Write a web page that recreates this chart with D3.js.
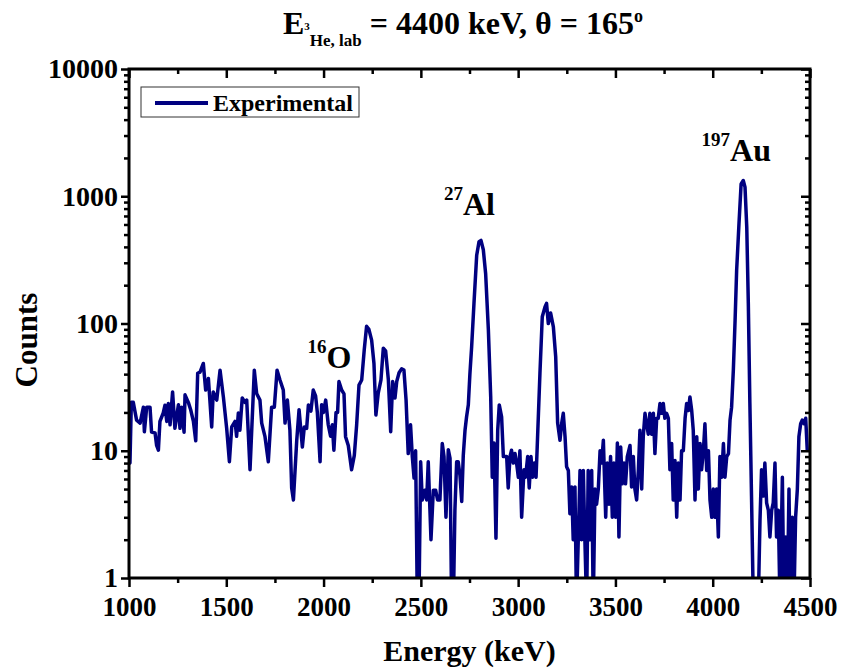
<!DOCTYPE html>
<html>
<head>
<meta charset="utf-8">
<script src="https://cdn.jsdelivr.net/npm/d3@7"></script>
<style>
  body { margin: 0; background: #fff; }
  text { font-family: "Liberation Serif", "Times New Roman", serif; font-weight: bold; }
</style>
</head>
<body>
<svg id="chart" width="841" height="668"></svg>
<script>
// spectrum (energy in keV, counts; 0 = empty channel)
const energy = [1000, 1005, 1012, 1022, 1039, 1057, 1074, 1079, 1091, 1108, 1116, 1134, 1142, 1151, 1159, 1176, 1185, 1194, 1202, 1211,
  1224, 1236, 1254, 1262, 1271, 1283, 1288, 1305, 1317, 1331, 1343, 1353, 1365, 1382, 1394, 1408, 1425, 1433, 1451, 1468,
  1485, 1502, 1516, 1528, 1545, 1553, 1562, 1570, 1582, 1596, 1605, 1622, 1644, 1656, 1673, 1682, 1699, 1716, 1733, 1747,
  1761, 1776, 1793, 1802, 1814, 1827, 1836, 1845, 1862, 1874, 1891, 1901, 1913, 1922, 1935, 1947, 1959, 1968, 1982, 1990,
  1999, 2011, 2024, 2036, 2045, 2053, 2064, 2072, 2079, 2093, 2105, 2113, 2127, 2144, 2158, 2170, 2182, 2196, 2209, 2221,
  2233, 2247, 2259, 2269, 2281, 2295, 2307, 2319, 2333, 2345, 2355, 2367, 2376, 2388, 2401, 2413, 2424, 2435, 2447, 2456,
  2465, 2473, 2482, 2490, 2499, 2507, 2521, 2530, 2538, 2552, 2564, 2576, 2586, 2598, 2610, 2619, 2629, 2641, 2650, 2658,
  2667, 2675, 2684, 2692, 2701, 2710, 2718, 2727, 2735, 2744, 2752, 2761, 2773, 2787, 2799, 2809, 2821, 2833, 2847, 2859,
  2867, 2876, 2886, 2895, 2903, 2915, 2924, 2932, 2941, 2949, 2958, 2966, 2975, 2984, 2992, 3001, 3009, 3018, 3030, 3038,
  3049, 3057, 3066, 3074, 3083, 3092, 3098, 3112, 3124, 3138, 3146, 3155, 3167, 3181, 3193, 3203, 3215, 3224, 3232, 3241,
  3249, 3258, 3266, 3275, 3283, 3292, 3300, 3309, 3318, 3326, 3335, 3343, 3352, 3360, 3369, 3378, 3386, 3395, 3403, 3412,
  3421, 3429, 3438, 3450, 3458, 3467, 3475, 3484, 3492, 3501, 3510, 3518, 3527, 3535, 3544, 3552, 3561, 3575, 3583, 3592,
  3600, 3609, 3618, 3626, 3635, 3643, 3652, 3660, 3669, 3677, 3686, 3695, 3703, 3712, 3720, 3729, 3737, 3746, 3754, 3763,
  3772, 3780, 3789, 3797, 3806, 3815, 3823, 3832, 3840, 3849, 3858, 3866, 3875, 3883, 3892, 3900, 3909, 3918, 3926, 3935,
  3943, 3952, 3960, 3969, 3978, 3986, 3995, 4003, 4012, 4020, 4029, 4037, 4046, 4055, 4063, 4072, 4081, 4089, 4097, 4106,
  4115, 4123, 4135, 4146, 4157, 4166, 4175, 4183, 4191, 4200, 4209, 4234, 4243, 4251, 4260, 4268, 4277, 4286, 4294, 4303,
  4311, 4320, 4328, 4337, 4346, 4358, 4366, 4375, 4383, 4392, 4400, 4409, 4417, 4426, 4435, 4443, 4452, 4460, 4469, 4478,
  4486];
const counts = [8.5, 8, 24, 24, 17.4, 16.5, 22, 14.1, 22, 22, 14, 13.8, 11, 10.1, 17, 19.8, 22.8, 17, 23.5, 16,
  29, 15, 23, 15, 22, 14, 27.5, 24, 21, 17, 12, 40.6, 41.5, 48.5, 30, 37, 15.4, 29, 25, 43,
  26.5, 15, 8.2, 15.4, 17, 13, 19.8, 14.5, 26, 24, 25, 7.1, 43, 28.2, 25, 16.5, 12.9, 8.2, 22, 22,
  43, 36, 30, 16.5, 25, 14.5, 5.1, 4.1, 12, 21, 10.7, 15.4, 15, 22.9, 20.5, 30, 27, 20, 8.2, 23,
  20, 25, 16, 13, 16, 10.1, 20, 20, 35, 30, 28, 12.9, 11, 7.1, 9.2, 16, 32.8, 36, 62, 95,
  90, 74, 48.5, 19.1, 28.4, 36, 64, 61, 36, 14.1, 35, 26, 35, 41, 44, 43, 25, 9.5, 16, 9,
  6.1, 10, 0, 0, 8.2, 4.1, 4.9, 4.1, 8.2, 2, 4.9, 4.9, 4.1, 4.1, 11.4, 9, 3, 10.2, 8.7, 0,
  0, 3.4, 8.2, 8.2, 6.4, 4, 9.2, 14.5, 18.5, 23, 40, 65.5, 144, 344, 440, 450, 380, 246, 89, 26.5,
  6.2, 11.5, 2.05, 14.5, 22.9, 18.5, 9, 9, 9, 5.1, 9, 10.1, 8, 9.5, 8, 6.2, 10, 3, 7.1, 6.2,
  9, 5.1, 9, 6.2, 8, 6.2, 10.7, 40.5, 113, 135, 144, 100, 121, 94, 55, 16.5, 12.1, 16.5, 19.7, 12.9,
  7.5, 7, 3.2, 5.2, 2, 5.2, 0, 2, 7, 2, 7, 2, 0, 7, 2, 7, 0, 5, 3.8, 5,
  10, 8, 12.1, 3, 8, 3.8, 9, 3, 8, 3, 11.5, 2.1, 10.7, 5.5, 8, 5.5, 9, 11, 5.2, 9,
  5, 4.1, 7.1, 14.5, 5, 12.9, 19.7, 16.3, 13.5, 19.7, 13.5, 19.7, 9.5, 18, 18, 23.5, 19.7, 23.5, 18, 19.7,
  18, 7.1, 11.4, 4.1, 8.4, 3, 8, 4.1, 10, 10, 18, 23.5, 20.7, 26.5, 20.7, 14.5, 4.1, 12.9, 5, 11.4,
  7.1, 10, 16.3, 7, 10, 4.1, 3, 5, 3, 5, 2.1, 9, 6.2, 11.4, 6.2, 9, 9.5, 17.4, 22, 43,
  106, 262, 610, 1250, 1330, 1180, 570, 144, 23.5, 3.9, 0, 0, 2.85, 7.1, 4.4, 8, 3.9, 3.4, 2.1, 3.4,
  3.9, 8, 2.1, 3.4, 0, 6.2, 0, 2.1, 0, 5, 0, 3, 0, 3, 5, 12.9, 16.3, 17.4, 16.3, 18,
  10];

const xTicks = [1000, 1500, 2000, 2500, 3000, 3500, 4000, 4500];
const xMinor = [1250, 1750, 2250, 2750, 3250, 3750, 4250];
const yTicks = [1, 10, 100, 1000, 10000];

// isotope labels, anchored in data space (energy, counts at the baseline)
const peaks = [
  {mass: "16", sym: "O", e: 1918, c: 45},
  {mass: "27", sym: "Al", e: 2619, c: 710},
  {mass: "197", sym: "Au", e: 3943, c: 1890}
];

const plotLeft = 129, plotRight = 810, plotTop = 69, plotBottom = 578;
const svg = d3.select("#chart");

const x = d3.scaleLinear().domain([1000, 4500]).range([plotLeft, plotRight]);
const y = d3.scaleLog().domain([1, 10000]).range([plotBottom, plotTop]);

// minor log ticks 2..9 in every decade
const yMinor = [];
yTicks.slice(0, -1).forEach(d => { for (let k = 2; k < 10; k++) yMinor.push(d * k); });

svg.append("clipPath").attr("id", "plot-clip")
  .append("rect")
  .attr("x", plotLeft).attr("y", plotTop)
  .attr("width", plotRight - plotLeft).attr("height", plotBottom - plotTop);

const data = energy.map((e, i) => ({e: e, c: counts[i]}));

const line = d3.line()
  .x(d => x(d.e))
  .y(d => y(Math.max(d.c, 0.6)));

svg.append("path")
  .datum(data)
  .attr("clip-path", "url(#plot-clip)")
  .attr("fill", "none")
  .attr("stroke", "#000080")
  .attr("stroke-width", 3.5)
  .attr("stroke-linejoin", "round")
  .attr("d", line);

// axes: bottom/left ticks point out, top/right mirrored inside
function styleAxis(g, size) {
  g.select(".domain").remove();
  g.selectAll(".tick line").attr("stroke", "#000").attr("stroke-width", 2.5);
  g.selectAll(".tick text")
    .attr("font-family", "'Liberation Serif', serif")
    .attr("font-weight", "bold")
    .attr("font-size", size || 27)
    .attr("fill", "#000");
}

svg.append("g").attr("transform", `translate(0,${plotBottom})`)
  .call(d3.axisBottom(x).tickValues(xTicks).tickSize(9).tickPadding(10).tickFormat(d3.format("d")))
  .call(styleAxis, 27);
svg.append("g").attr("transform", `translate(0,${plotBottom})`)
  .call(d3.axisBottom(x).tickValues(xMinor).tickSize(5).tickFormat(""))
  .call(styleAxis);
svg.append("g").attr("transform", `translate(0,${plotTop})`)
  .call(d3.axisBottom(x).tickValues(xTicks).tickSize(9).tickFormat(""))
  .call(styleAxis);
svg.append("g").attr("transform", `translate(0,${plotTop})`)
  .call(d3.axisBottom(x).tickValues(xMinor).tickSize(5).tickFormat(""))
  .call(styleAxis);

svg.append("g").attr("transform", `translate(${plotLeft},0)`)
  .call(d3.axisLeft(y).tickValues(yTicks).tickSize(8).tickPadding(3).tickFormat(d3.format("d")))
  .call(styleAxis, 28);
svg.append("g").attr("transform", `translate(${plotLeft},0)`)
  .call(d3.axisLeft(y).tickValues(yMinor).tickSize(5).tickFormat(""))
  .call(styleAxis);
svg.append("g").attr("transform", `translate(${plotRight},0)`)
  .call(d3.axisLeft(y).tickValues(yTicks).tickSize(9).tickFormat(""))
  .call(styleAxis);
svg.append("g").attr("transform", `translate(${plotRight},0)`)
  .call(d3.axisLeft(y).tickValues(yMinor).tickSize(5).tickFormat(""))
  .call(styleAxis);

// frame
svg.append("rect")
  .attr("x", plotLeft).attr("y", plotTop)
  .attr("width", plotRight - plotLeft).attr("height", plotBottom - plotTop)
  .attr("fill", "none")
  .attr("stroke", "#000")
  .attr("stroke-width", 3);

// title
const title = svg.append("text").attr("x", 283).attr("y", 34).attr("font-size", 32);
title.append("tspan").text("E");
title.append("tspan").attr("font-size", 11).attr("dy", -4).text("3");
title.append("tspan").attr("font-size", 17).attr("dy", 16).text("He, lab");
title.append("tspan").attr("dy", -12).text(" = 4400 keV, \u03b8 = 165");
title.append("tspan").attr("font-size", 18).attr("dy", -12).text("o");

// axis titles
svg.append("text")
  .attr("x", (plotLeft + plotRight) / 2).attr("y", 661)
  .attr("text-anchor", "middle")
  .attr("font-size", 30)
  .text("Energy (keV)");

svg.append("text")
  .attr("transform", "translate(37,340) rotate(-90)")
  .attr("text-anchor", "middle")
  .attr("font-size", 31)
  .text("Counts");

// legend
svg.append("rect")
  .attr("x", 141).attr("y", 87).attr("width", 218).attr("height", 30)
  .attr("fill", "#fff").attr("stroke", "#333").attr("stroke-width", 1);
svg.append("line")
  .attr("x1", 155).attr("x2", 208).attr("y1", 103).attr("y2", 103)
  .attr("stroke", "#000080").attr("stroke-width", 4);
svg.append("text")
  .attr("x", 213).attr("y", 111)
  .attr("font-size", 24)
  .text("Experimental");

// peak labels
peaks.forEach(p => {
  const t = svg.append("text")
    .attr("x", x(p.e)).attr("y", y(p.c))
    .attr("font-size", 32);
  t.append("tspan").attr("font-size", 19).attr("dy", -15).text(p.mass);
  t.append("tspan").attr("dy", 15).text(p.sym);
});
</script>
</body>
</html>
